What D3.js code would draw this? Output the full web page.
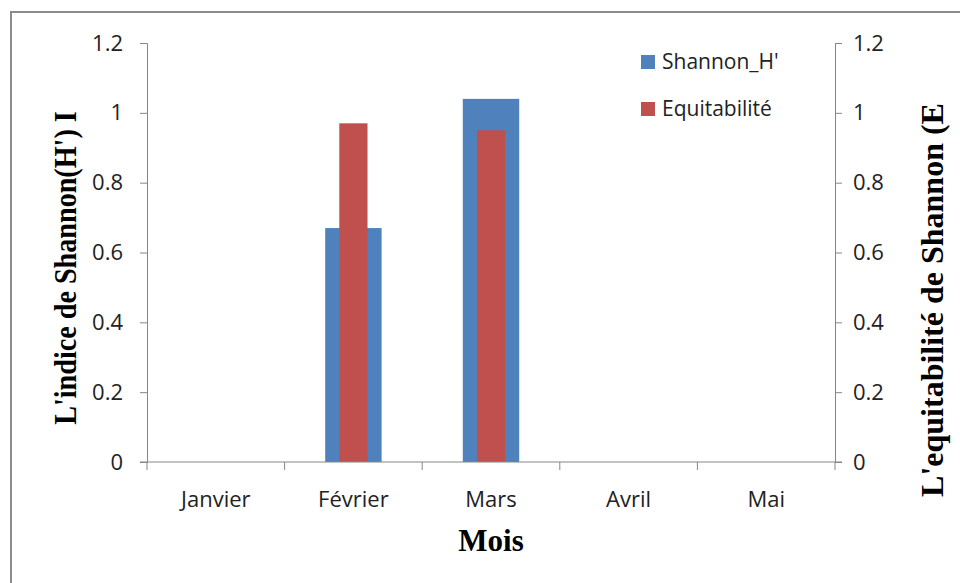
<!DOCTYPE html>
<html>
<head>
<meta charset="utf-8">
<script src="https://cdn.jsdelivr.net/npm/d3@7"></script>
<style>
  body { margin: 0; background: #fff; }
  .tick text { font-family: "Open Sans", "Noto Sans", sans-serif; font-size: 22px; fill: #222; }
  .axis path, .axis line { stroke: #868686; }
  .title { font-family: "Liberation Serif", "DejaVu Serif", serif; font-weight: bold; fill: #000; }
  .legend text { font-family: "Open Sans", "Noto Sans", sans-serif; font-size: 21px; fill: #222; }
</style>
</head>
<body>
<svg id="chart" width="960" height="583"></svg>
<script>
const months = ['Janvier', 'Février', 'Mars', 'Avril', 'Mai'];
const shannon = [0, 0.67, 1.04, 0, 0];
const equitabilite = [0, 0.97, 0.95, 0, 0];
const yTicks = [0, 0.2, 0.4, 0.6, 0.8, 1, 1.2];
const seriesNames = ["Shannon_H'", 'Equitabilité'];
const colors = ['#4F81BD', '#C0504D'];

const margin = { top: 43, right: 125, bottom: 121, left: 147 };
const width = 960, height = 583;
const svg = d3.select('#chart');

// outer frame
svg.append('rect')
  .attr('x', 11).attr('y', 12)
  .attr('width', 960).attr('height', 600)
  .attr('fill', 'none').attr('stroke', '#8c8c8c').attr('stroke-width', 2);

const x = d3.scaleBand()
  .domain(months)
  .range([margin.left, width - margin.right]);

const yLeft = d3.scaleLinear().domain([0, 1.2]).range([height - margin.bottom, margin.top]);
const yRight = d3.scaleLinear().domain([0, 1.2]).range([height - margin.bottom, margin.top]);

const fmt = (d) => (d === 0 || d === 1) ? String(d) : d3.format('.1f')(d);

// bars: blue (left axis) wide, red (right axis) narrow, overlapped
const blueW = x.bandwidth() * 0.41;
const redW = x.bandwidth() * 0.205;

svg.append('g').selectAll('rect')
  .data(months.map((m, i) => ({ m, v: shannon[i] })))
  .join('rect')
  .attr('x', (d) => x(d.m) + x.bandwidth() / 2 - blueW / 2)
  .attr('y', (d) => yLeft(d.v))
  .attr('width', blueW)
  .attr('height', (d) => yLeft(0) - yLeft(d.v))
  .attr('fill', colors[0]);

svg.append('g').selectAll('rect')
  .data(months.map((m, i) => ({ m, v: equitabilite[i] })))
  .join('rect')
  .attr('x', (d) => x(d.m) + x.bandwidth() / 2 - redW / 2)
  .attr('y', (d) => yRight(d.v))
  .attr('width', redW)
  .attr('height', (d) => yRight(0) - yRight(d.v))
  .attr('fill', colors[1]);

// left axis
svg.append('g')
  .attr('class', 'axis')
  .attr('transform', `translate(${margin.left},0)`)
  .call(d3.axisLeft(yLeft).tickValues(yTicks).tickFormat(fmt).tickSizeOuter(0).tickSize(7).tickPadding(17));

// right axis
svg.append('g')
  .attr('class', 'axis')
  .attr('transform', `translate(${width - margin.right},0)`)
  .call(d3.axisRight(yRight).tickValues(yTicks).tickFormat(fmt).tickSizeOuter(0).tickSize(7).tickPadding(11));

// x axis with ticks on category boundaries
const xg = svg.append('g')
  .attr('class', 'axis')
  .attr('transform', `translate(0,${height - margin.bottom})`);
xg.append('line')
  .attr('x1', margin.left - 7).attr('x2', width - margin.right + 7)
  .attr('y1', 0).attr('y2', 0);
xg.selectAll('.b')
  .data(months.concat(['__end']))
  .join('line')
  .attr('x1', (d, i) => i < months.length ? x(d) : x(months[months.length - 1]) + x.bandwidth())
  .attr('x2', (d, i) => i < months.length ? x(d) : x(months[months.length - 1]) + x.bandwidth())
  .attr('y1', 0).attr('y2', 8);
xg.selectAll('text')
  .data(months)
  .join('text')
  .attr('x', (d) => x(d) + x.bandwidth() / 2)
  .attr('y', 45)
  .attr('text-anchor', 'middle')
  .style('font-family', '"Open Sans", "Noto Sans", sans-serif')
  .style('font-size', '22px')
  .attr('fill', '#222')
  .text((d) => d);

// axis titles
svg.append('text')
  .attr('class', 'title')
  .attr('x', (margin.left + width - margin.right) / 2)
  .attr('y', 551)
  .attr('text-anchor', 'middle')
  .style('font-size', '31px')
  .text('Mois');

svg.append('text')
  .attr('class', 'title')
  .attr('transform', 'translate(76,268) rotate(-90) scale(0.88,1)')
  .attr('text-anchor', 'middle')
  .style('font-size', '32px')
  .text("L'indice de Shannon(H') I");

svg.append('text')
  .attr('class', 'title')
  .attr('transform', 'translate(943,300) rotate(-90)')
  .attr('text-anchor', 'middle')
  .style('font-size', '32px')
  .text("L'equitabilité de Shannon (E");

// legend
const legend = svg.append('g').attr('class', 'legend');
seriesNames.forEach((name, i) => {
  const g = legend.append('g').attr('transform', `translate(641,${55 + i * 47})`);
  g.append('rect').attr('width', 14).attr('height', 14).attr('fill', colors[i]);
  g.append('text').attr('x', 21).attr('y', 14).text(name);
});
</script>
</body>
</html>
